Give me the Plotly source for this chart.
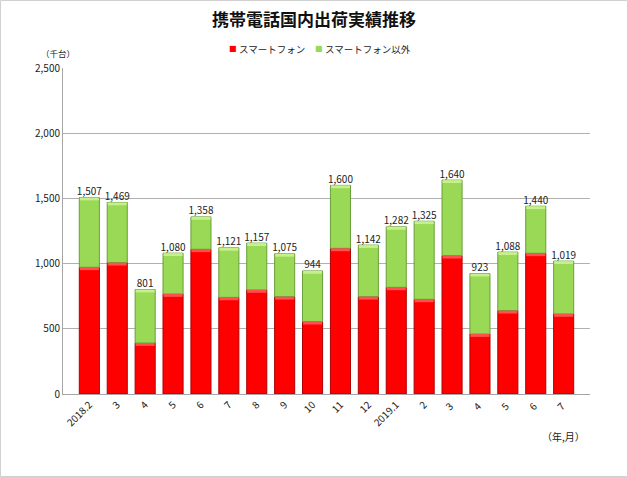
import plotly.graph_objects as go

categories = ["2018.2", "3", "4", "5", "6", "7", "8", "9", "10", "11", "12",
              "2019.1", "2", "3 ", "4 ", "5 ", "6 ", "7 "]
totals = [1507, 1469, 801, 1080, 1358, 1121, 1157, 1075, 944, 1600, 1142,
          1282, 1325, 1640, 923, 1088, 1440, 1019]
smartphone = [972, 1007, 391, 767, 1110, 741, 798, 746, 555, 1117, 746,
              818, 726, 1061, 460, 639, 1079, 614]
other = [t - s for t, s in zip(totals, smartphone)]
total_labels = [f"{t:,}" for t in totals]

FONT = "Noto Sans CJK JP"
BW = 0.72
HL = 22  # highlight stripe thickness in data units

fig = go.Figure()
fig.add_trace(go.Bar(
    x=categories, y=smartphone, base=[0] * len(smartphone), name="スマートフォン",
    width=BW, showlegend=False,
    marker=dict(color="#FF0000", line=dict(color="#B00000", width=1)),
))
fig.add_trace(go.Bar(
    x=categories, y=other, base=smartphone, name="スマートフォン以外",
    width=BW, showlegend=False,
    marker=dict(color="#99D955", line=dict(color="#6A9E3A", width=1)),
))
# top highlight stripes
fig.add_trace(go.Bar(
    x=categories, y=[HL] * len(smartphone), base=[s - HL for s in smartphone],
    width=BW - 0.04, showlegend=False, hoverinfo="skip",
    marker=dict(color="#FF5050", line=dict(width=0)),
))
fig.add_trace(go.Bar(
    x=categories, y=[HL] * len(totals), base=[t - HL for t in totals],
    width=BW - 0.04, showlegend=False, hoverinfo="skip",
    marker=dict(color="#C6F08E", line=dict(width=0)),
))
fig.add_trace(go.Scatter(
    x=categories, y=totals, mode="text", text=total_labels,
    textposition="top center", textfont=dict(size=10, color="#222", family=FONT),
    showlegend=False, hoverinfo="skip",
))

W, H = 628, 477
ml, mr, mt, mb = 63, 38, 68, 83
pw, ph = W - ml - mr, H - mt - mb


def px(x):
    return (x - ml) / pw


def py(y):
    return (mt + ph - y) / ph


ann = [
    dict(text="（千台）", x=px(58), y=py(53), xanchor="center", yanchor="middle",
         font=dict(size=8.5, family=FONT)),
    dict(text="（年,月）", x=px(587), y=py(436), xanchor="right", yanchor="middle",
         font=dict(size=10, family=FONT)),
    dict(text="■", x=px(233), y=py(49), xanchor="center", yanchor="middle",
         font=dict(size=8, color="#FF0000", family="DejaVu Sans")),
    dict(text="スマートフォン", x=px(237), y=py(49), xanchor="left", yanchor="middle",
         font=dict(size=9.5, family=FONT)),
    dict(text="■", x=px(319), y=py(49), xanchor="center", yanchor="middle",
         font=dict(size=8, color="#99D955", family="DejaVu Sans")),
    dict(text="スマートフォン以外", x=px(323), y=py(49), xanchor="left", yanchor="middle",
         font=dict(size=9.5, family=FONT)),
]
for a in ann:
    a.update(xref="paper", yref="paper", showarrow=False)

fig.update_layout(
    width=W, height=H,
    margin=dict(l=ml, r=mr, t=mt, b=mb, autoexpand=False),
    barmode="overlay", showlegend=False,
    plot_bgcolor="white", paper_bgcolor="white",
    font=dict(family=FONT, size=10, color="#222"),
    title=dict(text="<b>携帯電話国内出荷実績推移</b>", x=0.5, xanchor="center",
               y=1 - 20 / H, yanchor="middle",
               font=dict(size=17, color="#111", family=FONT)),
    xaxis=dict(tickangle=-45, showline=True, linecolor="#A6A6A6",
               tickfont=dict(size=10), ticks=""),
    yaxis=dict(range=[0, 2500], tickvals=[0, 500, 1000, 1500, 2000, 2500],
               ticktext=["0", "500", "1,000", "1,500", "2,000", "2,500"],
               showgrid=True, gridcolor="#B0B0B0", gridwidth=1,
               showline=True, linecolor="#A6A6A6", zeroline=False,
               tickfont=dict(size=10), ticks=""),
    annotations=ann,
    shapes=[
        dict(type="rect", xref="paper", yref="paper",
             x0=(-ml + 0.5) / pw, x1=1 + (mr - 0.5) / pw,
             y0=-(mb - 0.5) / ph, y1=1 + (mt - 0.5) / ph,
             line=dict(color="#D0D0D0", width=1), layer="below"),
    ],
)

fig.write_html("out.html", config={"displayModeBar": False},
               post_script="document.body.style.margin='0';")
